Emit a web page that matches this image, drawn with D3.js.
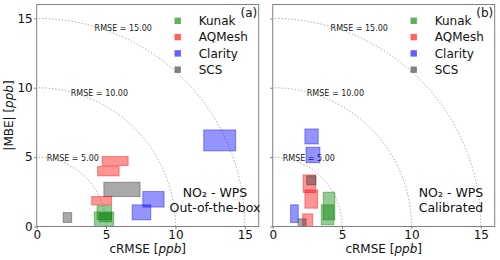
<!DOCTYPE html>
<html>
<head>
<meta charset="utf-8">
<script src="https://cdn.jsdelivr.net/npm/d3@7"></script>
<style>
  body { margin: 0; background: #fff; }
  svg { font-family: "DejaVu Sans", sans-serif; }
</style>
</head>
<body>
<svg id="chart" width="500" height="260"></svg>
<script>
// sensor groups, one colour each
const groups = ['Kunak', 'AQMesh', 'Clarity', 'SCS'];
const groupColors = ['#008000', '#ff0000', '#0000ff', '#333333'];

// boxes: [group, cRMSE min, cRMSE max, |MBE| min, |MBE| max]
const boxesRaw = [
  ['Clarity', 12.04, 14.34, 5.45, 6.96],
  ['AQMesh', 4.72, 6.59, 4.39, 5.04],
  ['AQMesh', 4.39, 5.94, 3.65, 4.32],
  ['SCS', 4.84, 7.45, 2.16, 3.19],
  ['Clarity', 7.65, 9.18, 1.40, 2.52],
  ['Clarity', 6.88, 8.22, 0.48, 1.56],
  ['AQMesh', 3.96, 5.40, 1.56, 2.16],
  ['SCS', 1.91, 2.52, 0.29, 1.00],
  ['Kunak', 4.35, 5.40, 0.50, 1.50],
  ['Kunak', 4.15, 5.55, 0.00, 1.05],
  ['Kunak', 4.50, 5.40, 0.35, 0.95]
];
const boxesCal = [
  ['Clarity', 2.32, 3.28, 5.95, 7.03],
  ['Clarity', 2.40, 3.40, 4.60, 5.71],
  ['AQMesh', 2.20, 3.09, 2.45, 3.72],
  ['SCS', 2.45, 3.12, 3.00, 3.65],
  ['AQMesh', 2.32, 3.24, 1.32, 2.64],
  ['Kunak', 3.64, 4.48, 0.48, 2.47],
  ['Kunak', 3.50, 4.41, 0.12, 1.56],
  ['Clarity', 1.29, 1.84, 0.29, 1.56],
  ['AQMesh', 2.16, 2.88, 0.00, 0.91],
  ['SCS', 1.84, 2.40, 0.00, 0.55]
];

const rmseLevels = [5, 10, 15];
// label anchor (centre x, baseline y) in data units for each level
const rmseLabelX = [2.6, 4.52, 6.24];
const rmseLabelY = [4.69, 9.40, 14.08];
const ticks = [0, 5, 10, 15];

const svg = d3.select('#chart');
const W = 222, H = 222, TOP = 4.5;
const color = d3.scaleOrdinal().domain(groups).range(groupColors);
const frameColor = '#808080';

function panel(x0, boxes, tag, subtitle, showY) {
  const g = svg.append('g').attr('transform', `translate(${x0},${TOP})`);
  const x = d3.scaleLinear().domain([0, 16]).range([0, W]);
  const y = d3.scaleLinear().domain([0, 16]).range([H, 0]);

  const clip = 'clip' + tag.replace(/\W/g, '');
  g.append('clipPath').attr('id', clip).append('rect').attr('width', W).attr('height', H);
  const plot = g.append('g').attr('clip-path', `url(#${clip})`);

  // RMSE circles
  const arc = r => d3.line().x(d => x(d[0])).y(d => y(d[1]))(
    d3.range(0, 91).map(a => [r * Math.cos(a * Math.PI / 180), r * Math.sin(a * Math.PI / 180)]));
  plot.selectAll('.rmse').data(rmseLevels).enter().append('path')
    .attr('d', d => arc(d)).attr('fill', 'none')
    .attr('stroke', '#9a9a9a').attr('stroke-width', 0.8).attr('stroke-dasharray', '1.5,1.8');
  plot.selectAll('.rmse-label').data(rmseLevels).enter().append('text')
    .attr('x', (d, i) => x(rmseLabelX[i])).attr('y', (d, i) => y(rmseLabelY[i]))
    .attr('text-anchor', 'middle').attr('font-size', '8px').attr('fill', '#222')
    .text(d => 'RMSE = ' + d.toFixed(2));

  // boxes
  plot.selectAll('.box').data(boxes).enter().append('rect')
    .attr('x', d => x(d[1])).attr('width', d => x(d[2]) - x(d[1]))
    .attr('y', d => y(d[4])).attr('height', d => y(d[3]) - y(d[4]))
    .attr('fill', d => color(d[0])).attr('fill-opacity', 0.42)
    .attr('stroke', d => color(d[0])).attr('stroke-opacity', 0.42).attr('stroke-width', 1);

  // frame
  g.append('rect').attr('width', W).attr('height', H).attr('fill', 'none')
    .attr('stroke', frameColor).attr('stroke-width', 1);

  const xAxis = g.append('g').attr('transform', `translate(0,${H})`)
    .call(d3.axisBottom(x).tickValues(ticks).tickSize(2.5).tickPadding(1.5));
  const yAxis = g.append('g')
    .call(d3.axisLeft(y).tickValues(ticks).tickSize(2.5).tickPadding(1.5)
      .tickFormat(showY ? d3.format('d') : () => ''));
  [xAxis, yAxis].forEach(a => {
    a.select('.domain').remove();
    a.selectAll('line').attr('stroke', frameColor);
    a.selectAll('text').attr('font-size', '12px').attr('fill', '#111')
      .attr('font-family', '"DejaVu Sans", sans-serif');
  });

  const xl = g.append('text').attr('x', W / 2).attr('y', H + 26.5).attr('text-anchor', 'middle')
    .attr('font-size', '12px').attr('fill', '#111');
  xl.append('tspan').text('cRMSE [');
  xl.append('tspan').attr('font-style', 'italic').text('ppb');
  xl.append('tspan').text(']');

  if (showY) {
    const yl = g.append('text').attr('transform', `translate(${-23.5},${H / 2}) rotate(-90)`)
      .attr('text-anchor', 'middle').attr('font-size', '12px').attr('fill', '#111');
    yl.append('tspan').text('|MBE| [');
    yl.append('tspan').attr('font-style', 'italic').text('ppb');
    yl.append('tspan').text(']');
  }

  // legend
  const leg = g.append('g').attr('transform', 'translate(141,16.3)');
  const li = leg.selectAll('g').data(groups).enter().append('g')
    .attr('transform', (d, i) => `translate(0,${i * 16.3})`);
  li.append('rect').attr('x', -3.2).attr('y', -3.2).attr('width', 6.4).attr('height', 6.4)
    .attr('fill', d => color(d)).attr('fill-opacity', 0.62);
  li.append('text').attr('x', 21).attr('y', 4.3).attr('font-size', '12px').attr('fill', '#111')
    .text(d => d);

  g.append('text').attr('x', W - 1.5).attr('y', 12).attr('text-anchor', 'end')
    .attr('font-size', '12px').attr('fill', '#111').text(tag);

  g.append('text').attr('x', 178.3).attr('y', 192.8).attr('text-anchor', 'middle')
    .attr('font-size', '12.5px').attr('fill', '#111').text('NO\u2082 - WPS');
  g.append('text').attr('x', 178.3).attr('y', 207.2).attr('text-anchor', 'middle')
    .attr('font-size', '12.5px').attr('fill', '#111').text(subtitle);
}

panel(36.7, boxesRaw, '(a)', 'Out-of-the-box', true);
panel(272.7, boxesCal, '(b)', 'Calibrated', false);
</script>
</body>
</html>
